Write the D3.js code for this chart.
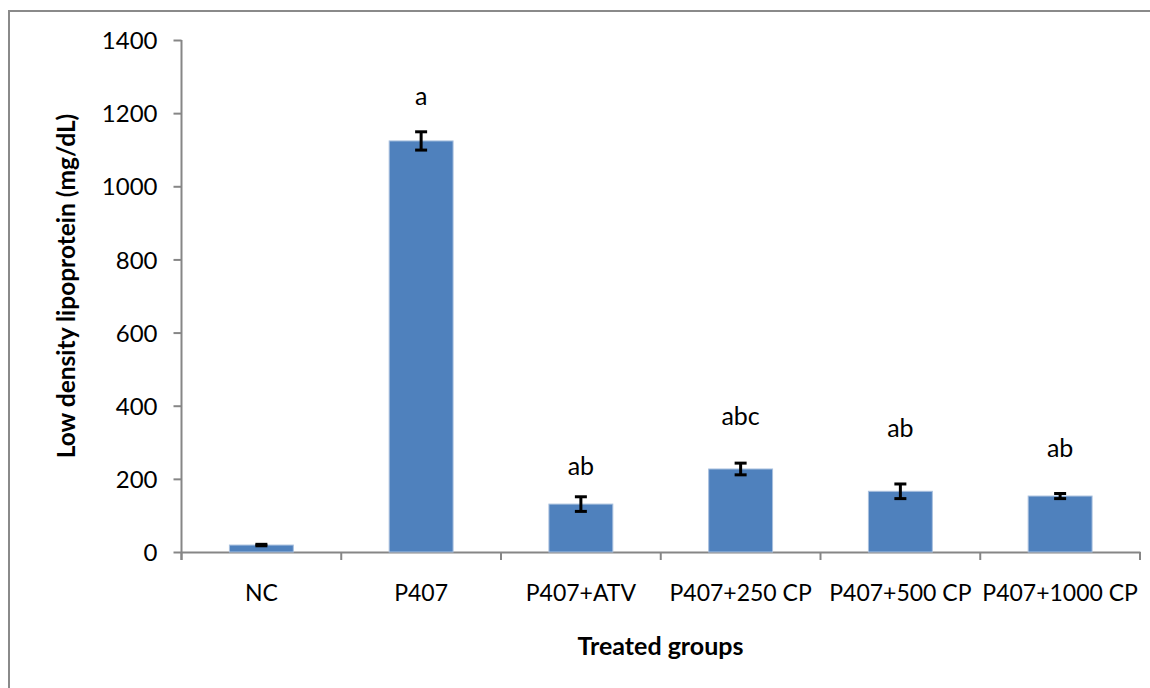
<!DOCTYPE html>
<html>
<head>
<meta charset="utf-8">
<script src="https://cdn.jsdelivr.net/npm/d3@7"></script>
<style>
  body { margin: 0; background: #fff; }
  text { font-family: Lato, "Open Sans", sans-serif; fill: #000; }
</style>
</head>
<body>
<div id="chart"></div>
<script>
// groups on the x axis
var groups = ["NC", "P407", "P407+ATV", "P407+250 CP", "P407+500 CP", "P407+1000 CP"];
// LDL mean (mg/dL) and error
var ldl = [19, 1124, 131, 227, 166, 153];
var ldlErr = [2, 25, 20, 16, 20, 7];
// significance letters and the height (mg/dL) where they sit
var letters = ["", "a", "ab", "abc", "ab", "ab"];
var letterAt = [0, 1222, 210, 347, 315, 261];
var yTicks = [0, 200, 400, 600, 800, 1000, 1200, 1400];

var width = 1150, height = 688;
var axisColor = "#868686";

var svg = d3.select("#chart").append("svg")
  .attr("width", width)
  .attr("height", height);

// chart area border (right and bottom sides run off the picture)
svg.append("rect")
  .attr("x", 9)
  .attr("y", 11)
  .attr("width", 1200)
  .attr("height", 800)
  .attr("fill", "none")
  .attr("stroke", "#8a8a8a")
  .attr("stroke-width", 2);

var x = d3.scaleBand()
  .domain(groups)
  .range([181.5, 1140])
  .paddingInner(0.6)
  .paddingOuter(0.3);

var y = d3.scaleLinear()
  .domain([0, 1400])
  .range([552, 40]);

// y axis
var yAxis = svg.append("g")
  .attr("transform", "translate(181.5,0)")
  .call(d3.axisLeft(y).tickValues(yTicks).tickFormat(d3.format("d"))
    .tickSize(8).tickPadding(16));
yAxis.select(".domain").attr("stroke", axisColor).attr("stroke-width", 2)
  .attr("d", "M0,40V560");
yAxis.selectAll(".tick line").attr("stroke", axisColor).attr("stroke-width", 2);
yAxis.selectAll(".tick text").style("font-size", "24px").attr("dy", "0.36em");

// x axis, labels only; separators drawn below
var xAxis = svg.append("g")
  .attr("transform", "translate(0,552)")
  .call(d3.axisBottom(x).tickSize(0).tickPadding(33));
xAxis.select(".domain").attr("stroke", axisColor).attr("stroke-width", 2);
xAxis.selectAll(".tick text").style("font-size", "23px");

var step = x.step();
var bounds = groups.map(function (g) {
  return x(g) + x.bandwidth() / 2 - step / 2;
});
bounds.push(x(groups[groups.length - 1]) + x.bandwidth() / 2 + step / 2);
svg.append("g").selectAll("line")
  .data(bounds)
  .enter().append("line")
  .attr("x1", function (d) { return d; })
  .attr("x2", function (d) { return d; })
  .attr("y1", 552)
  .attr("y2", 560)
  .attr("stroke", axisColor)
  .attr("stroke-width", 2);

// bars
svg.append("g").selectAll("rect")
  .data(ldl)
  .enter().append("rect")
  .attr("x", function (d, i) { return x(groups[i]); })
  .attr("y", function (d) { return y(d); })
  .attr("width", x.bandwidth())
  .attr("height", function (d) { return y(0) - y(d); })
  .attr("fill", "#4f81bd")
  .attr("stroke", "#a9c0de")
  .attr("stroke-width", 1);

// error bars
var eb = svg.append("g").selectAll("g")
  .data(ldl)
  .enter().append("g")
  .attr("stroke", "#000")
  .attr("stroke-width", 3);
eb.append("line")
  .attr("x1", function (d, i) { return x(groups[i]) + x.bandwidth() / 2; })
  .attr("x2", function (d, i) { return x(groups[i]) + x.bandwidth() / 2; })
  .attr("y1", function (d, i) { return y(d + ldlErr[i]); })
  .attr("y2", function (d, i) { return y(d - ldlErr[i]); });
eb.append("line")
  .attr("x1", function (d, i) { return x(groups[i]) + x.bandwidth() / 2 - 6; })
  .attr("x2", function (d, i) { return x(groups[i]) + x.bandwidth() / 2 + 6; })
  .attr("y1", function (d, i) { return y(d + ldlErr[i]); })
  .attr("y2", function (d, i) { return y(d + ldlErr[i]); });
eb.append("line")
  .attr("x1", function (d, i) { return x(groups[i]) + x.bandwidth() / 2 - 6; })
  .attr("x2", function (d, i) { return x(groups[i]) + x.bandwidth() / 2 + 6; })
  .attr("y1", function (d, i) { return y(d - ldlErr[i]); })
  .attr("y2", function (d, i) { return y(d - ldlErr[i]); });

// significance letters
svg.append("g").selectAll("text")
  .data(letters)
  .enter().append("text")
  .attr("x", function (d, i) { return x(groups[i]) + x.bandwidth() / 2; })
  .attr("y", function (d, i) { return y(letterAt[i]); })
  .attr("text-anchor", "middle")
  .style("font-size", "25px")
  .text(function (d) { return d; });

// axis titles
svg.append("text")
  .attr("transform", "translate(75,286) rotate(-90)")
  .attr("text-anchor", "middle")
  .style("font-size", "24.5px")
  .style("font-weight", "bold")
  .text("Low density lipoprotein (mg/dL)");

svg.append("text")
  .attr("x", 660.5)
  .attr("y", 655)
  .attr("text-anchor", "middle")
  .style("font-size", "25px")
  .style("font-weight", "bold")
  .text("Treated groups");
</script>
</body>
</html>
